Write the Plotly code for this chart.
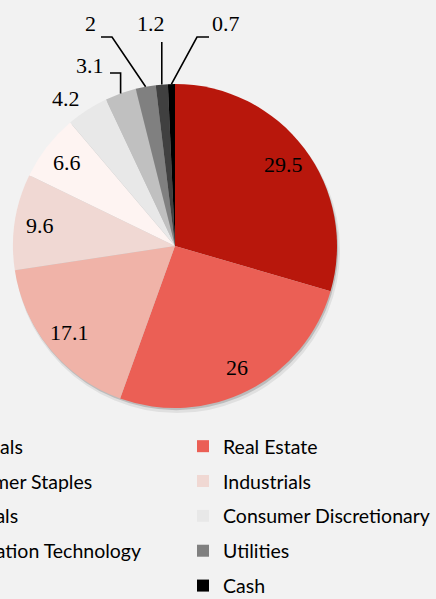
import math
import plotly.graph_objects as go

# ---------------- data ----------------
sectors = ["Financials", "Real Estate", "Consumer Staples", "Industrials", "Materials",
           "Consumer Discretionary", "Information Technology", "Utilities", "Energy", "Cash"]
weights = [29.5, 26, 17.1, 9.6, 6.6, 4.2, 3.1, 2, 1.2, 0.7]
colors = ["#B8170C", "#EB5F55", "#F0B3A8", "#F0D8D3", "#FEF4F2",
          "#E8E8E8", "#C0C0C0", "#808080", "#404040", "#000000"]

# ---------------- layout constants (pixels) ----------------
W, H = 436, 599
CX, CY, R = 175, 246, 162
BG = "#F2F2F2"
INSIDE_FRAC = 0.84
N_INSIDE = 5
# outside label without leader line: slice index -> text xy
OUTSIDE_TEXT = {5: (66, 98)}
# leader-line label placement for small slices: slice index -> (text xy, elbow xy, line end xy)
LEADERS = {
    6: ((90, 65), (None, 73), (110, 73)),
    7: ((90, 24), (112, 37), (101, 37)),
    8: ((151, 24), (None, 42), (None, 42)),
    9: ((226, 24), (197, 37), (209, 37)),
}
# soft drop shadow under the pie: (dx, dy, extra radius, colour)
SHADOWS = [(2.0, 4.0, 1.0, "rgba(0,0,0,0.07)"), (1.2, 2.2, 0.0, "rgba(0,0,0,0.16)")]


def px(x):
    return x / W


def py(y):
    return 1 - y / H


total = sum(weights)
mid_angles = []
acc = 0.0
for w in weights:
    mid_angles.append(math.radians((acc + w / 2) / total * 360))
    acc += w


def polar(i, f):
    a = mid_angles[i]
    return CX + f * R * math.sin(a), CY - f * R * math.cos(a)


fig = go.Figure()
for dx, dy, dr, sc in SHADOWS:
    r = R + dr
    fig.add_trace(go.Pie(
        labels=["shadow"], values=[total], sort=False, textinfo="none", showlegend=False,
        hoverinfo="skip", marker=dict(colors=[sc], line=dict(width=0)),
        domain=dict(x=[px(CX + dx - r), px(CX + dx + r)], y=[py(CY + dy + r), py(CY + dy - r)]),
    ))

fig.add_trace(go.Pie(
    labels=sectors, values=weights, sort=False, direction="clockwise", rotation=0,
    marker=dict(colors=colors, line=dict(width=0)),
    textinfo="none", showlegend=False, hoverinfo="label+value",
    domain=dict(x=[px(CX - R), px(CX + R)], y=[py(CY + R), py(CY - R)]),
))

# legend entries (two columns, row-wise order)
for i, (name, c) in enumerate(zip(sectors, colors)):
    fig.add_trace(go.Scatter(
        x=[None], y=[None], mode="markers", name=name,
        marker=dict(symbol="square", size=12, color=c, line=dict(width=0)),
        legend="legend" if i % 2 == 0 else "legend2",
        legendgroup=name, showlegend=True, hoverinfo="skip",
    ))

annotations = []
shapes = []
label_font = dict(family="Liberation Serif", size=22, color="#000000")
for i, w in enumerate(weights):
    txt = f"{w:g}"
    if i < N_INSIDE:
        x, y = polar(i, INSIDE_FRAC)
    elif i in LEADERS:
        (x, y), elbow, end = LEADERS[i]
        ax_, ay_ = polar(i, 1.0)
        ex = ax_ if elbow[0] is None else elbow[0]
        ey = elbow[1]
        lx = ex if end[0] is None else end[0]
        ly = end[1]
        shapes.append(dict(
            type="path", xref="paper", yref="paper",
            path=f"M{px(ax_)},{py(ay_)} L{px(ex)},{py(ey)} L{px(lx)},{py(ly)}",
            line=dict(color="#000000", width=1.6),
        ))
    else:
        x, y = OUTSIDE_TEXT[i]
    annotations.append(dict(
        x=px(x), y=py(y), xref="paper", yref="paper", text=txt, showarrow=False,
        xanchor="center", yanchor="middle", font=label_font,
    ))

legend_common = dict(
    yanchor="top", xanchor="left", y=py(427),
    font=dict(family="Lato", size=19.5, color="#000000"),
    bgcolor="rgba(0,0,0,0)", tracegroupgap=6.5, traceorder="grouped",
    itemclick=False, itemdoubleclick=False,
)

fig.update_layout(
    width=W, height=H,
    margin=dict(l=0, r=0, t=0, b=0, autoexpand=False),
    paper_bgcolor=BG, plot_bgcolor=BG,
    xaxis=dict(visible=False), yaxis=dict(visible=False),
    legend=dict(x=px(-101), **legend_common),
    legend2=dict(x=px(183), **legend_common),
    annotations=annotations, shapes=shapes,
    showlegend=True,
)

fig.write_html(
    "out.html",
    config={"displayModeBar": False},
    post_script="document.body.style.margin='0';document.body.style.overflow='hidden';"
                "document.body.style.background='" + BG + "';",
)
